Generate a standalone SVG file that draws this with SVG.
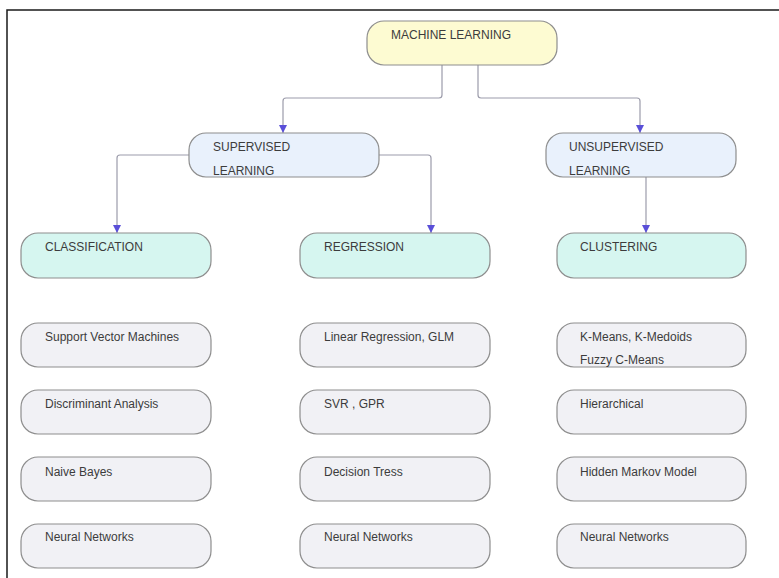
<svg xmlns="http://www.w3.org/2000/svg" width="779" height="578" viewBox="0 0 779 578">
<defs>
<style>
.n{stroke:#8e8e8e;stroke-width:1.2}
.ml{fill:#fdfbd2}
.sup{fill:#e9f1fc}
.cat{fill:#d6f6f0}
.it{fill:#f1f1f5}
text{font-family:"Liberation Sans",Arial,sans-serif;font-size:12px;fill:#3c3c3c}
.c{fill:none;stroke:#9c9cab;stroke-width:1.2}
</style>
<marker id="ah" viewBox="0 0 10 10" refX="10" refY="5" markerWidth="8" markerHeight="8" markerUnits="userSpaceOnUse" orient="auto">
<path d="M0,0 L10,5 L0,10 z" fill="#5a4fd8"/>
</marker>
</defs>
<rect width="779" height="578" fill="#ffffff"/>
<path d="M7,578 V10 H779" fill="none" stroke="#1a1a1a" stroke-width="1.5"/>

<g id="connectors">
<path class="c" d="M442,65 V95 Q442,98 439,98 H286 Q283,98 283,101 V133" marker-end="url(#ah)"/>
<path class="c" d="M478,65 V95 Q478,98 481,98 H637 Q640,98 640,101 V133" marker-end="url(#ah)"/>
<path class="c" d="M189,155 H120 Q117,155 117,158 V233" marker-end="url(#ah)"/>
<path class="c" d="M379,155 H428 Q431,155 431,158 V233" marker-end="url(#ah)"/>
<path class="c" d="M646,177 V233" marker-end="url(#ah)"/>
</g>

<g id="machine-learning"><rect class="n ml" x="367" y="21" width="190" height="44" rx="17"/><text x="391" y="39">MACHINE LEARNING</text></g>

<g id="supervised"><rect class="n sup" x="189" y="133" width="190" height="44" rx="17"/><text x="213" y="151">SUPERVISED</text><text x="213" y="175">LEARNING</text></g>
<g id="unsupervised"><rect class="n sup" x="546" y="133" width="190" height="44" rx="17"/><text x="569" y="151">UNSUPERVISED</text><text x="569" y="175">LEARNING</text></g>

<g id="classification"><rect class="n cat" x="21" y="233" width="190" height="45" rx="17"/><text x="45" y="251">CLASSIFICATION</text></g>
<g id="regression"><rect class="n cat" x="300" y="233" width="190" height="45" rx="17"/><text x="324" y="251">REGRESSION</text></g>
<g id="clustering"><rect class="n cat" x="557" y="233" width="189" height="45" rx="17"/><text x="580" y="251">CLUSTERING</text></g>

<g id="svm"><rect class="n it" x="21" y="323" width="190" height="44" rx="17"/><text x="45" y="341">Support Vector Machines</text></g>
<g id="discriminant"><rect class="n it" x="21" y="390" width="190" height="44" rx="17"/><text x="45" y="408">Discriminant Analysis</text></g>
<g id="naive-bayes"><rect class="n it" x="21" y="457" width="190" height="44" rx="17"/><text x="45" y="476">Naive Bayes</text></g>
<g id="nn-class"><rect class="n it" x="21" y="524" width="190" height="44" rx="17"/><text x="45" y="541">Neural Networks</text></g>

<g id="linreg"><rect class="n it" x="300" y="323" width="190" height="44" rx="17"/><text x="324" y="341">Linear Regression, GLM</text></g>
<g id="svr"><rect class="n it" x="300" y="390" width="190" height="44" rx="17"/><text x="324" y="408">SVR , GPR</text></g>
<g id="dtree"><rect class="n it" x="300" y="457" width="190" height="44" rx="17"/><text x="324" y="476">Decision Tress</text></g>
<g id="nn-reg"><rect class="n it" x="300" y="524" width="190" height="44" rx="17"/><text x="324" y="541">Neural Networks</text></g>

<g id="kmeans"><rect class="n it" x="557" y="323" width="189" height="44" rx="17"/><text x="580" y="341">K-Means, K-Medoids</text><text x="580" y="364">Fuzzy C-Means</text></g>
<g id="hier"><rect class="n it" x="557" y="390" width="189" height="44" rx="17"/><text x="580" y="408">Hierarchical</text></g>
<g id="hmm"><rect class="n it" x="557" y="457" width="189" height="44" rx="17"/><text x="580" y="476">Hidden Markov Model</text></g>
<g id="nn-clust"><rect class="n it" x="557" y="524" width="189" height="44" rx="17"/><text x="580" y="541">Neural Networks</text></g>
</svg>
